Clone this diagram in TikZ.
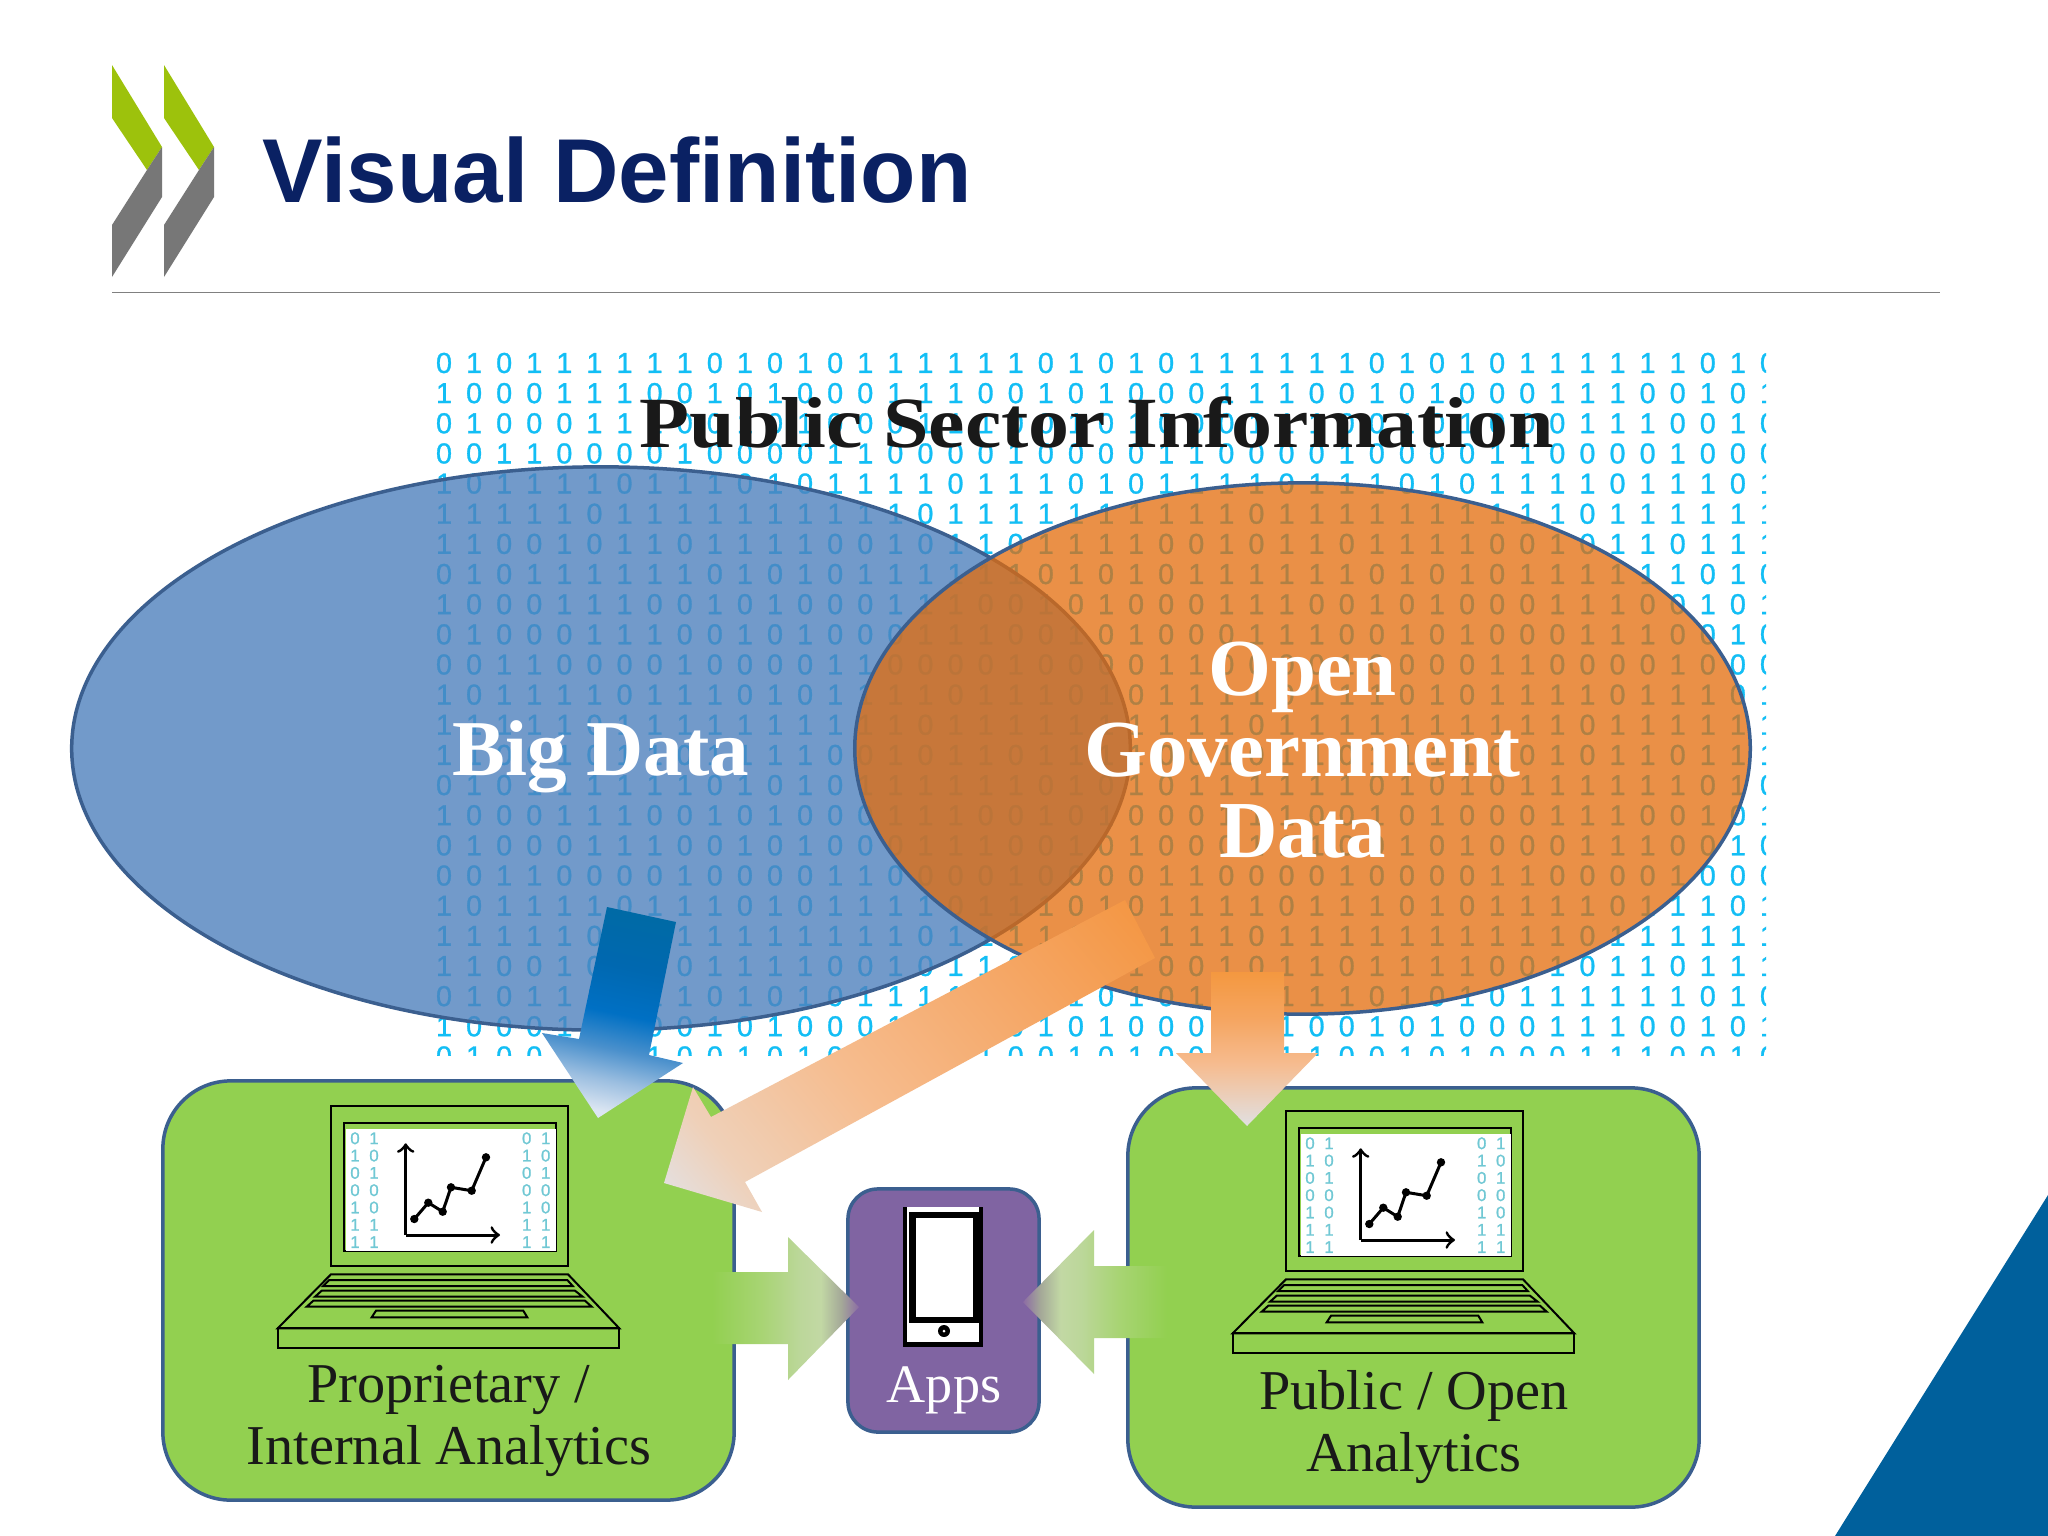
\documentclass[tikz,border=0pt]{standalone}
\usepackage{fontspec}
\setmainfont{Liberation Serif}
\newfontfamily\sansfont{Liberation Sans}
\newfontfamily\bitfont[FakeBold=1]{Liberation Sans}
\usetikzlibrary{shapes.geometric}

\definecolor{titleblue}{HTML}{0A2163}
\definecolor{logogreen}{HTML}{9DC20C}
\definecolor{logogray}{HTML}{777777}
\definecolor{bitblue}{HTML}{12BEF5}
\definecolor{edgeblue}{HTML}{3B5F8F}
\definecolor{boxgreen}{HTML}{92D050}
\definecolor{boxpurple}{HTML}{8064A2}
\definecolor{cornerblue}{HTML}{00609C}
\definecolor{vennblue}{HTML}{4F81BD}
\definecolor{vennorange}{HTML}{E46C0A}
\definecolor{scrteal}{HTML}{70C8D4}

\pgfdeclarehorizontalshading{orangefade}{100bp}{color(0bp)=(rgb,255:red,226;green,226;blue,230);color(15bp)=(rgb,255:red,226;green,226;blue,230);color(25bp)=(rgb,255:red,239;green,208;blue,184);color(43bp)=(rgb,255:red,246;green,188;blue,142);color(64bp)=(rgb,255:red,245;green,168;blue,104);color(85bp)=(rgb,255:red,244;green,149;blue,64);color(100bp)=(rgb,255:red,244;green,149;blue,64)}
\pgfdeclareverticalshading{orangedown}{100bp}{color(0bp)=(rgb,255:red,224;green,224;blue,226);color(25bp)=(rgb,255:red,224;green,224;blue,226);color(45bp)=(rgb,255:red,246;green,188;blue,144);color(60bp)=(rgb,255:red,245;green,165;blue,96);color(75bp)=(rgb,255:red,244;green,152;blue,64);color(100bp)=(rgb,255:red,244;green,152;blue,64)}
\pgfdeclareverticalshading{bluefade}{100bp}{color(0bp)=(rgb,255:red,220;green,230;blue,242);color(25bp)=(rgb,255:red,220;green,230;blue,242);color(33bp)=(rgb,255:red,155;green,190;blue,224);color(41bp)=(rgb,255:red,74;green,144;blue,204);color(50bp)=(rgb,255:red,0;green,112;blue,196);color(62bp)=(rgb,255:red,0;green,104;blue,176);color(75bp)=(rgb,255:red,0;green,106;blue,166);color(100bp)=(rgb,255:red,0;green,106;blue,166)}
\pgfdeclarehorizontalshading{greenfade}{100bp}{color(0bp)=(rgb,255:red,146;green,208;blue,80);color(25bp)=(rgb,255:red,146;green,208;blue,80);color(42bp)=(rgb,255:red,168;green,212;blue,116);color(55bp)=(rgb,255:red,188;green,215;blue,154);color(62bp)=(rgb,255:red,194;green,216;blue,164);color(69bp)=(rgb,255:red,164;green,168;blue,152);color(75bp)=(rgb,255:red,140;green,108;blue,164);color(100bp)=(rgb,255:red,140;green,108;blue,164)}

\def\bitgrid{{0,1,0,1,1,1,1,1,1,0,1,
1,0,0,0,1,1,1,0,0,1,0,
0,1,0,0,0,1,1,1,0,0,1,
0,0,1,1,0,0,0,0,1,0,0,
1,0,1,1,1,1,0,1,1,1,0,
1,1,1,1,1,0,1,1,1,1,1,
1,1,0,0,1,0,1,1,0,1,1}}

\tikzset{
  bitdigit/.style={inner sep=0pt,text=bitblue,font=\bitfont\fontsize{8.2}{8}\selectfont},
  scrdigit/.style={inner sep=0pt,text=scrteal,font=\bitfont\fontsize{4.8}{5}\selectfont},
  venn/.style={ellipse,draw=edgeblue,line width=0.035cm,inner sep=0pt},
  vennlabel/.style={inner sep=0pt,text=white,align=center,font=\bfseries\fontsize{23}{23}\selectfont},
  roundbox/.style={draw=edgeblue,line width=0.035cm,inner sep=0pt},
  boxlabel/.style={anchor=base,inner sep=0pt,text=black!90,font=\fontsize{16}{17}\selectfont},
  laptop/.pic={
    \draw[line width=0.02cm] (0,0) rectangle (237,160);
    \draw[line width=0.02cm,fill=boxgreen] (13,17) rectangle (224.7,144.7);
    \fill[white] (14.5,23) rectangle (224.7,144.7);
    \foreach \d [count=\n from 0] in {0,1,0,0,1,1,1,1,0,1,0,0,1,1} {
      \pgfmathsetmacro\row{mod(\n,7)}
      \pgfmathsetmacro\col{\n<7?0:19}
      \node[scrdigit] at (24+\col,32.3+17.3*\row) {\d};
      \node[scrdigit] at (195.7+\col,32.3+17.3*\row) {\d};
    }
    \draw[->,line width=0.03cm] (74.7,129) -- (74.7,37.3);
    \draw[->,line width=0.03cm] (74.7,129) -- (169,129);
    \draw[line width=0.03cm] (83.3,113) -- (97.3,96.7) -- (111.7,105.7) -- (120,81.3) -- (140.7,84.7) -- (155,51.3);
    \foreach \p in {(83.3,113),(97.3,96.7),(111.7,105.7),(120,81.3),(140.7,84.7),(155,51.3)}
      \fill \p circle (4.2);
    \draw[line width=0.02cm] (0,168.3) -- (237,168.3) -- (288.3,222.3) -- (-53.3,222.3) -- cycle;
    \draw[line width=0.02cm] (-53.3,222.3) rectangle (288.3,241.7);
    \draw[line width=0.02cm] (-1.7,174) -- (236.3,174) -- (241.7,180) -- (-7.7,180) -- cycle;
    \draw[line width=0.02cm] (-9.3,184.7) -- (244,184.7) -- (251.7,190.7) -- (-16,190.7) -- cycle;
    \draw[line width=0.02cm] (-17.7,194.7) -- (254,194.7) -- (260.7,200.7) -- (-24.3,200.7) -- cycle;
    \draw[line width=0.02cm] (45,204.7) -- (192.3,204.7) -- (196.3,211.3) -- (40.7,211.3) -- cycle;
  }
}

\begin{document}
\begin{tikzpicture}[x=0.01cm,y=-0.01cm]
\useasboundingbox (0,0) rectangle (2048,1536);
\fill[white] (0,0) rectangle (2048,1536);

\foreach \dx in {0,52} {
  \fill[logogreen] (112+\dx,65) -- (162+\dx,147) -- (147+\dx,170) -- (112+\dx,118) -- cycle;
  \fill[logogray] (162+\dx,147) -- (162+\dx,197) -- (112+\dx,277) -- (112+\dx,225) -- (147+\dx,170) -- cycle;
}
\node[anchor=base west,inner sep=0pt,text=titleblue,font=\sansfont\bfseries\fontsize{25.8}{26}\selectfont] (title) at (262,202) {Visual Definition};
\draw[gray,line width=0.015cm] (112,292.5) -- (1940,292.5);
\fill[cornerblue] (2048,1195) -- (1835,1536) -- (2048,1536) -- cycle;

\begin{scope}
\clip (435,350) rectangle (1766,1055);
\foreach \r in {0,...,23} {
  \pgfmathtruncatemacro\k{mod(\r,7)}
  \foreach \c in {0,...,44} {
    \pgfmathtruncatemacro\j{mod(\c,11)}
    \pgfmathtruncatemacro\d{\bitgrid[\k*11+\j]}
    \node[bitdigit] (b\r-\c) at (444+30.09*\c,363+30.15*\r) {\d};
  }
}
\end{scope}

\node[anchor=base,inner sep=0pt,text=black!90,font=\bfseries\fontsize{20.5}{21}\selectfont] (psi) at (1097,447) {\scalebox{1.136}[1]{Public Sector Information}};

\node[venn,fill=vennblue,fill opacity=0.8,minimum width=10.58cm,minimum height=5.63cm] (bigdata) at (601,748.5) {};
\node[venn,fill=vennorange,fill opacity=0.75,minimum width=8.95cm,minimum height=5.31cm] (opendata) at (1302.5,748.5) {};
\node[vennlabel,anchor=base] (bigtext) at (601,775.5) {\fontsize{22.5}{23}\selectfont Big Data};
\node[vennlabel] (opentext) at (1302.5,750) {Open\\Government\\Data};

\node[roundbox,fill=boxgreen,rounded corners=0.68cm,minimum width=5.71cm,minimum height=4.19cm] (propbox) at (448.5,1290.5) {};
\node[roundbox,fill=boxgreen,rounded corners=0.68cm,minimum width=5.71cm,minimum height=4.19cm] (openbox) at (1413.5,1297.5) {};
\node[roundbox,fill=boxpurple,rounded corners=0.3cm,minimum width=1.91cm,minimum height=2.43cm] (appsbox) at (943.5,1310.5) {};

\pic at (331,1106) {laptop};
\pic at (1286,1111) {laptop};
\node[boxlabel] (proplabel) at (449,1402) {Proprietary /};
\node[boxlabel] (proplabel2) at (449,1464) {Internal Analytics};
\node[boxlabel] (openlabel) at (1414,1409) {Public / Open};
\node[boxlabel] (openlabel2) at (1414,1471) {Analytics};

\fill (903,1207) rectangle (983,1347);
\fill[white] (907,1207) rectangle (979,1342);
\fill (909,1212) rectangle (979,1323);
\fill[white] (916,1218) rectangle (973,1317);
\fill (944,1331) circle (6);
\fill[white] (944,1331) circle (1.5);
\node[anchor=base,inner sep=0pt,text=white,font=\fontsize{15.4}{16}\selectfont] (apps) at (944,1402) {Apps};

\shade[shading=bluefade,shading angle=-12] (607,907) -- (676,922) -- (649,1055) -- (683,1063) -- (598,1118) -- (542,1033) -- (579,1039) -- cycle;
\shade[shading=orangefade,shading angle=40] (1125,900) -- (1155,958) -- (745,1182) -- (762,1212) -- (664,1183) -- (693,1087) -- (711,1117) -- cycle;
\shade[shading=orangedown] (1211,972) -- (1284,972) -- (1284,1053) -- (1318,1053) -- (1247,1126) -- (1176,1053) -- (1211,1053) -- cycle;
\shade[shading=greenfade] (712,1272) -- (788,1272) -- (788,1237) -- (859,1307) -- (788,1380) -- (788,1344) -- (712,1344) -- cycle;
\shade[shading=greenfade,shading angle=180] (1167,1266) -- (1094,1266) -- (1094,1230) -- (1023,1302) -- (1094,1374) -- (1094,1338) -- (1167,1338) -- cycle;

\end{tikzpicture}
\end{document}
